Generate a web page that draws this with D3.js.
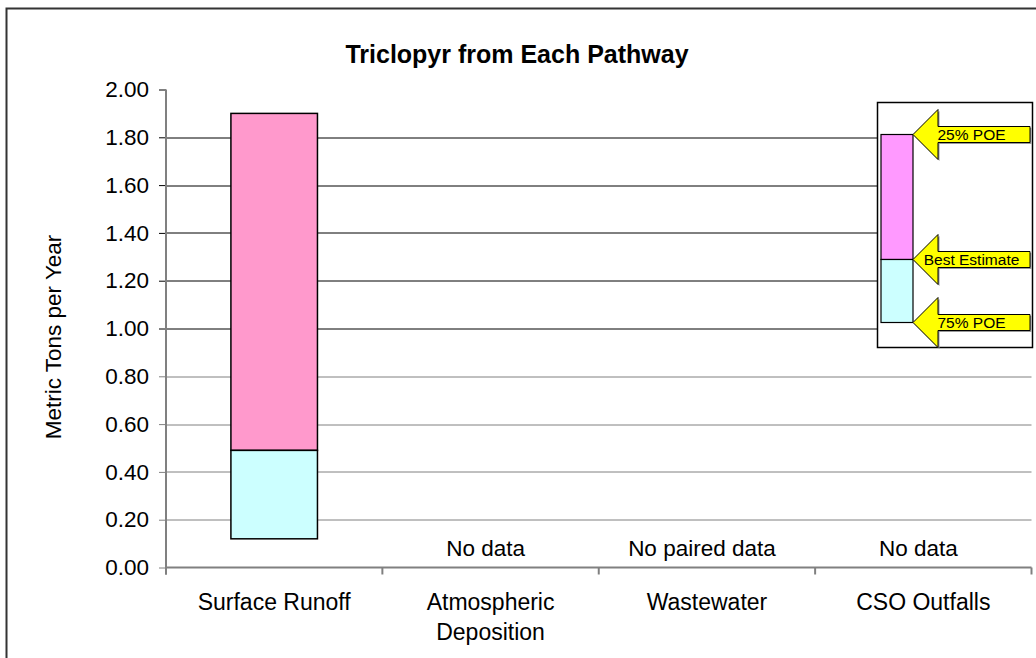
<!DOCTYPE html>
<html>
<head>
<meta charset="utf-8">
<script src="https://cdn.jsdelivr.net/npm/d3@7"></script>
<style>
  body { margin: 0; background: #fff; }
  svg { display: block; font-family: 'Liberation Sans', Arial, sans-serif; }
</style>
</head>
<body>
<div id="chart"></div>
<script>
// chart values
const categories = ['Surface Runoff', 'Atmospheric Deposition', 'Wastewater', 'CSO Outfalls']
const lowValues = [0.12, null, null, null] // 75% POE
const bestValues = [0.49, null, null, null] // best estimate
const highValues = [1.9, null, null, null] // 25% POE
const noteLabels = ['', 'No data', 'No paired data', 'No data']
const yTicks = [0, 0.2, 0.4, 0.6, 0.8, 1.0, 1.2, 1.4, 1.6, 1.8, 2.0]
const legendLabels = ['25% POE', 'Best Estimate', '75% POE']

const W = 1036
const H = 658
const margin = { top: 89.5, left: 166, right: 4.5, bottom: 90.5 }
const width = W - margin.left - margin.right
const height = H - margin.top - margin.bottom

const svg = d3
  .select('#chart')
  .append('svg')
  .attr('width', W)
  .attr('height', H)

// outer chart border (runs off the right and bottom)
svg
  .append('rect')
  .attr('x', 6.5)
  .attr('y', 8.5)
  .attr('width', W + 20)
  .attr('height', H + 20)
  .attr('fill', 'none')
  .attr('stroke', '#333')
  .attr('stroke-width', 2)

svg
  .append('text')
  .attr('x', 517)
  .attr('y', 63)
  .attr('text-anchor', 'middle')
  .attr('font-size', 25)
  .attr('font-weight', 'bold')
  .text('Triclopyr from Each Pathway')

svg
  .append('text')
  .attr('transform', 'translate(61,337) rotate(-90)')
  .attr('text-anchor', 'middle')
  .attr('font-size', 22.5)
  .text('Metric Tons per Year')

const g = svg.append('g').attr('transform', `translate(${margin.left},${margin.top})`)

const x = d3.scaleBand().domain(categories).range([0, width]).padding(0)
const y = d3.scaleLinear().domain([0, 2]).range([height, 0])

// gridlines (upper ones print darker in the original)
g.append('g')
  .selectAll('line')
  .data(yTicks.filter((d) => d > 0 && d < 2))
  .enter()
  .append('line')
  .attr('x1', 0)
  .attr('x2', width)
  .attr('y1', (d) => Math.round(y(d)) + 0.5)
  .attr('y2', (d) => Math.round(y(d)) + 0.5)
  .attr('stroke', (d) => (d >= 1 ? '#000' : '#808080'))
  .attr('stroke-width', 1)

// y axis
const yAxis = g
  .append('g')
  .call(d3.axisLeft(y).tickValues(yTicks).tickSize(7).tickPadding(10).tickFormat(d3.format('.2f')))
yAxis.select('.domain').remove()
yAxis
  .selectAll('.tick line')
  .attr('stroke', (d) => (d >= 1 ? '#000' : '#808080'))
yAxis.selectAll('.tick text').attr('font-size', 22.5).attr('fill', '#000').attr('font-family', 'Liberation Sans, Arial, sans-serif')
g.append('line')
  .attr('x1', 0)
  .attr('x2', 0)
  .attr('y1', 0)
  .attr('y2', height + 7)
  .attr('stroke', '#808080')
  .attr('stroke-width', 2)

// x axis with ticks between categories
g.append('line')
  .attr('x1', 0)
  .attr('x2', width)
  .attr('y1', height)
  .attr('y2', height)
  .attr('stroke', '#808080')
  .attr('stroke-width', 2)
g.append('g')
  .selectAll('line')
  .data(d3.range(categories.length + 1))
  .enter()
  .append('line')
  .attr('x1', (i) => i * x.step())
  .attr('x2', (i) => i * x.step())
  .attr('y1', height)
  .attr('y2', height + 7)
  .attr('stroke', '#808080')
  .attr('stroke-width', 2)

const xLabels = g
  .append('g')
  .selectAll('text')
  .data(categories)
  .enter()
  .append('text')
  .attr('text-anchor', 'middle')
  .attr('font-size', 23)
  .attr('transform', (d) => `translate(${x(d) + x.bandwidth() / 2},${height + 42})`)
xLabels
  .selectAll('tspan')
  .data((d) => (d === 'Atmospheric Deposition' ? ['Atmospheric', 'Deposition'] : [d]))
  .enter()
  .append('tspan')
  .attr('x', 0)
  .attr('dy', (d, i) => (i === 0 ? 0 : 30))
  .text((d) => d)

// notes for missing data
g.append('g')
  .selectAll('text')
  .data(categories.map((c, i) => ({ c, note: noteLabels[i] })))
  .enter()
  .append('text')
  .attr('x', (d) => x(d.c) + x.bandwidth() / 2 - 5)
  .attr('y', height - 12)
  .attr('text-anchor', 'middle')
  .attr('font-size', 22.5)
  .text((d) => d.note)

// range bars: low -> best (cyan), best -> high (pink)
const barW = x.bandwidth() * 0.4
const rows = categories
  .map((c, i) => ({ c, low: lowValues[i], best: bestValues[i], high: highValues[i] }))
  .filter((d) => d.low != null)

const bars = g.append('g').selectAll('g').data(rows).enter().append('g')
bars
  .append('rect')
  .attr('x', (d) => x(d.c) + (x.bandwidth() - barW) / 2)
  .attr('y', (d) => y(d.high))
  .attr('width', barW)
  .attr('height', (d) => y(d.best) - y(d.high))
  .attr('fill', '#FF99CC')
  .attr('stroke', '#000')
  .attr('stroke-width', 1.5)
bars
  .append('rect')
  .attr('x', (d) => x(d.c) + (x.bandwidth() - barW) / 2)
  .attr('y', (d) => y(d.best))
  .attr('width', barW)
  .attr('height', (d) => y(d.low) - y(d.best))
  .attr('fill', '#CCFFFF')
  .attr('stroke', '#000')
  .attr('stroke-width', 1.5)

// legend box with arrows
const lg = svg.append('g')
lg.append('rect')
  .attr('x', 877.5)
  .attr('y', 102.5)
  .attr('width', 155)
  .attr('height', 245)
  .attr('fill', '#fff')
  .attr('stroke', '#000')
  .attr('stroke-width', 1.5)

const legBar = { x: 881, w: 32, top: 134.5, mid: 259.5, bottom: 322.5 }
lg.append('rect')
  .attr('x', legBar.x)
  .attr('y', legBar.top)
  .attr('width', legBar.w)
  .attr('height', legBar.mid - legBar.top)
  .attr('fill', '#FF99FF')
  .attr('stroke', '#000')
  .attr('stroke-width', 1.2)
lg.append('rect')
  .attr('x', legBar.x)
  .attr('y', legBar.mid)
  .attr('width', legBar.w)
  .attr('height', legBar.bottom - legBar.mid)
  .attr('fill', '#CCFFFF')
  .attr('stroke', '#000')
  .attr('stroke-width', 1.2)

const tipX = legBar.x + legBar.w
const endX = 1030
const arrowY = [legBar.top, legBar.mid, legBar.bottom]
function arrowPath(ty) {
  const hl = 25
  const hh = 25
  const sh = 8
  return `M${tipX},${ty}L${tipX + hl},${ty - hh}L${tipX + hl},${ty - sh}L${endX},${ty - sh}L${endX},${ty + sh}L${tipX + hl},${ty + sh}L${tipX + hl},${ty + hh}Z`
}
const arrows = lg
  .selectAll('.arrow')
  .data(legendLabels.map((t, i) => ({ t, ty: arrowY[i] })))
  .enter()
  .append('g')
arrows
  .append('path')
  .attr('d', (d) => arrowPath(d.ty))
  .attr('transform', 'translate(1.5,1.5)')
  .attr('fill', '#999')
arrows
  .append('path')
  .attr('d', (d) => arrowPath(d.ty))
  .attr('fill', '#FFFF00')
  .attr('stroke', '#000')
  .attr('stroke-width', 1)
arrows
  .append('text')
  .attr('x', (tipX + endX) / 2)
  .attr('y', (d) => d.ty + 5.5)
  .attr('text-anchor', 'middle')
  .attr('font-size', 15.5)
  .text((d) => d.t)
</script>
</body>
</html>
